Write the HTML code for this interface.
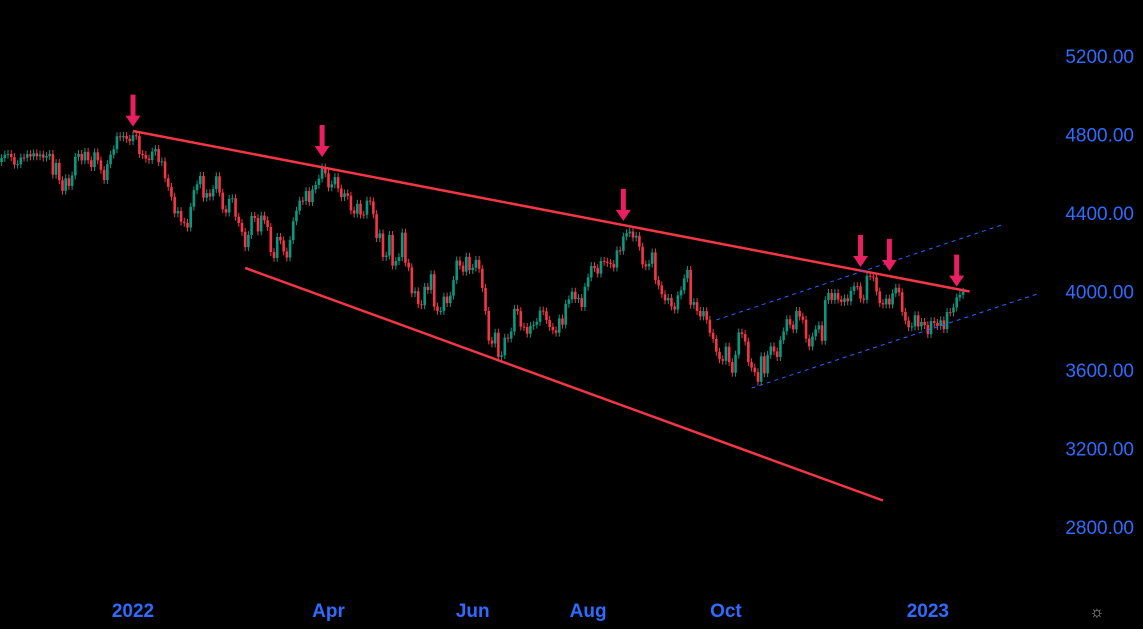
<!DOCTYPE html>
<html><head><meta charset="utf-8"><style>
html,body{margin:0;padding:0;background:#000;width:1143px;height:629px;overflow:hidden}
svg{display:block}
text{font-family:"Liberation Sans","DejaVu Sans",sans-serif}
</style></head><body>
<svg id="chart" width="1143" height="629"></svg>
<script>
// Daily closes starting ~Nov 3 2021 (index 42 = Jan 3 2022)
const closes = [4660,4680,4697,4701,4685,4646,4649,4683,4682,4700,4688,4704,4689,
4698,4682,4690,4701,4595,4655,4567,4513,4577,4538,4591,4686,4701,4668,4712,4669,4634,4709,4668,4620,4568,4649,4697,4725,4791,4786,4793,4778,4766,
4796,4793,4701,4696,4677,4670,4713,4726,4659,4663,4577,4533,4483,4398,4410,4356,4350,4326,4432,4516,4546,4589,4478,4501,4484,4522,4587,4504,4419,4402,4472,4475,4381,4349,4304,4226,4288,4385,4374,4306,4387,4363,4329,4201,4171,4278,4260,4204,4173,4262,4358,4412,4463,4461,4512,4456,4520,4543,4575,4632,4602,4530,
4546,4583,4525,4481,4500,4488,4413,4397,4447,4392,4391,4463,4459,4394,4272,4296,4176,4183,4288,4132,4155,4175,4300,4147,4123,3991,4001,3935,3930,4024,4008,4088,3923,3901,3901,3974,3941,3979,4058,4158,4132,
4101,4177,4109,4121,4161,4116,4018,3901,3750,3735,3790,3667,3675,3765,3760,3796,3912,3900,3821,3819,3785,3825,3831,3845,3903,3899,3855,3819,3802,3790,3863,3831,3937,3960,3999,3962,3967,3921,4024,4072,4130,
4119,4091,4155,4152,4145,4140,4122,4210,4207,4280,4297,4305,4275,4284,4228,4138,4128,4141,4199,4058,4031,3986,3955,3967,3924,3908,3980,4006,4067,4110,3932,3946,3901,3873,3900,3856,3790,3758,3693,3655,3647,3719,3640,3586,
3678,3791,3783,3745,3640,3612,3589,3540,3670,3583,3677,3720,3695,3666,3752,3797,3859,3831,3807,3901,3872,3856,3760,3720,3771,3807,3828,3749,3956,3993,3957,3992,3959,3947,3965,3950,4003,4027,4026,3964,3958,4080,
4077,4072,4000,3941,3934,3964,3934,3991,4019,3996,3896,3852,3818,3822,3879,3822,3845,3829,3783,3849,3840,3824,3853,3808,3895,3893,3919,3970,3983,3999];
const priceTicks = [5200,4800,4400,4000,3600,3200,2800];
const timeLabels = ["2022","Apr","Jun","Aug","Oct","2023"];
const timeLabelIdx = [42,103,148,184,227,290];
// trendlines: [idxA, priceA, idxB, priceB]
const upperTrend = [42,4818,303,4000];
const lowerTrend = [77,4120,276,2935];
const channelUpper = [224,3855,314,4344];
const channelLower = [235,3508,325,3992];
// arrow markers at highs
const arrowIdx = [42,101,195,269,278,299];
const arrowPrice = [4835,4680,4355,4120,4100,4020];

const X0=133, PX=3.205;
const xs = i => X0 + (i-42)*PX;
const ys = v => 56 + (5200-v)*0.19625;
const svg=document.getElementById('chart');
const NS='http://www.w3.org/2000/svg';
function mk(t,a){const e=document.createElementNS(NS,t);for(const k in a)e.setAttribute(k,a[k]);svg.appendChild(e);return e;}

for(let i=0;i<closes.length;i++){
  const c=closes[i], o=i>0?closes[i-1]:c;
  const up=c>=o, col=up?'#089981':'#f23645';
  const hi=Math.max(o,c)+20, lo=Math.min(o,c)-20;
  const x=xs(i);
  const w=mk('line',{x1:x,x2:x,y1:ys(hi),y2:ys(lo),stroke:col,'stroke-width':1});
  
  
  const top=ys(Math.max(o,c)), h=Math.max(1,ys(Math.min(o,c))-top);
  const b=mk('rect',{x:x-1.3,y:top,width:2.6,height:h,fill:col});
  
  
}
function tl(a,name,attrs){
  const l=mk('line',Object.assign({x1:xs(a[0]),y1:ys(a[1]),x2:xs(a[2]),y2:ys(a[3])},attrs));
  
  
}
tl(upperTrend,'upper-trendline',{stroke:'#f23645','stroke-width':2.5});
tl(lowerTrend,'lower-trendline',{stroke:'#f23645','stroke-width':2.5});
tl(channelUpper,'channel-upper-line',{stroke:'#2962ff','stroke-width':1,'stroke-dasharray':'4 4'});
tl(channelLower,'channel-lower-line',{stroke:'#2962ff','stroke-width':1,'stroke-dasharray':'4 4'});
for(let i=0;i<arrowIdx.length;i++){
  const x=xs(arrowIdx[i]), tip=ys(arrowPrice[i]);
  const g=mk('path',{d:`M${x-2.5},${tip-33} h5 v21 h5 l-7.5,11 l-7.5,-11 h5 z`,fill:'#e91e63'});
  
  
}
for(let i=0;i<priceTicks.length;i++){
  const t=mk('text',{x:1134,y:ys(priceTicks[i])+7,'text-anchor':'end','font-size':19,fill:'#2f6bff'});
  t.textContent=priceTicks[i].toFixed(2);
  
  
}
for(let i=0;i<timeLabels.length;i++){
  const t=mk('text',{x:xs(timeLabelIdx[i]),y:617,'text-anchor':'middle','font-size':19,'font-weight':'bold',fill:'#2f6bff'});
  t.textContent=timeLabels[i];
  
  
}
const gear=mk('text',{x:1097,y:617,'text-anchor':'middle','font-size':16,fill:'#aaa'});
gear.textContent='☼';


</script>
</body></html>
